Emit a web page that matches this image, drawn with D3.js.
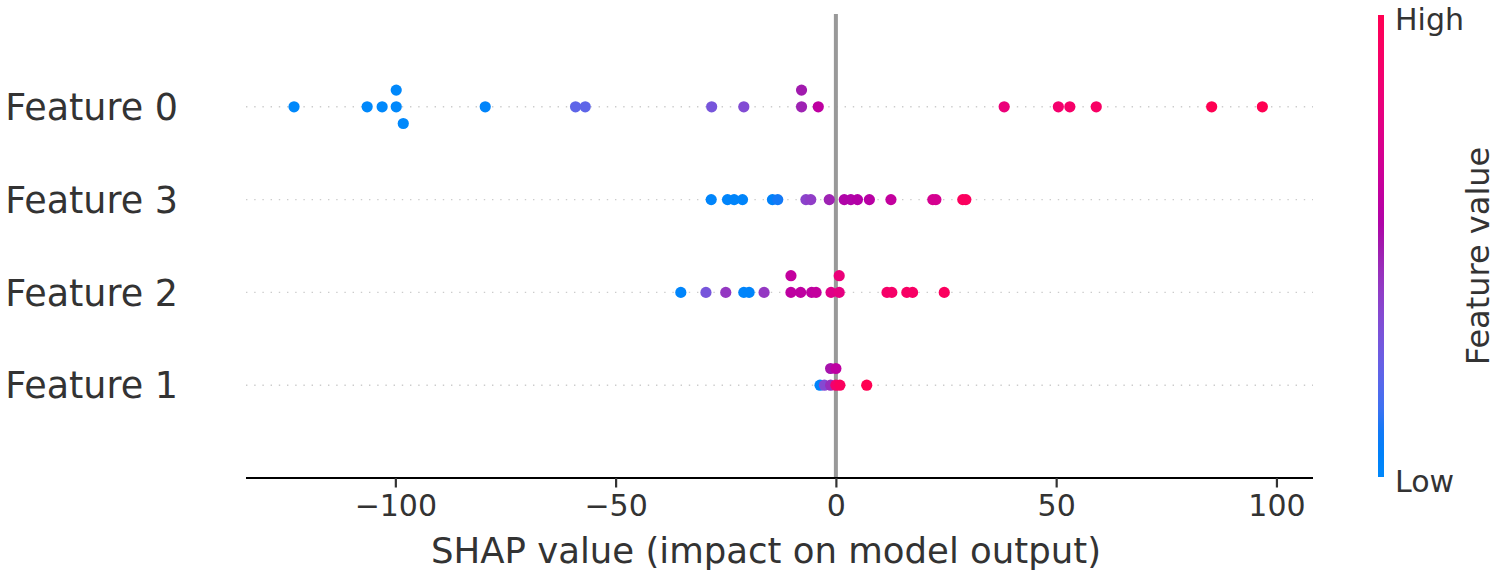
<!DOCTYPE html>
<html>
<head>
<meta charset="utf-8">
<script src="https://cdn.jsdelivr.net/npm/d3@7"></script>
<style>
  html, body { margin: 0; padding: 0; background: #ffffff; }
  svg { display: block; font-family: "DejaVu Sans", sans-serif; }
</style>
</head>
<body>
<svg id="chart" width="1498" height="584"></svg>
<script>
// ---- data ----
const featureNames = ["Feature 0", "Feature 3", "Feature 2", "Feature 1"]; // top to bottom
const xTicks = [-100, -50, 0, 50, 100];

// SHAP values and normalised feature values (0 = low, 1 = high)
const shapF0 = [-123.0, -106.4, -103.0, -99.8, -99.8, -98.2, -79.6, -59.1, -56.9, -28.2, -20.9, -7.8, -7.8, -4.0, 38.2, 50.5, 53.1, 59.1, 85.3, 96.8];
const valF0  = [0.0, 0.0, 0.0, 0.0, 0.0, 0.0, 0.03, 0.22, 0.22, 0.3, 0.34, 0.48, 0.5, 0.6, 0.82, 0.88, 0.9, 0.92, 1.0, 1.0];

const shapF3 = [-28.3, -24.6, -23.1, -21.2, -14.4, -13.2, -6.8, -5.7, -1.5, 1.9, 3.4, 4.9, 7.6, 12.5, 22.0, 22.7, 28.8, 29.5];
const valF3  = [0.02, 0.02, 0.03, 0.03, 0.05, 0.1, 0.38, 0.4, 0.48, 0.55, 0.55, 0.56, 0.58, 0.62, 0.7, 0.7, 0.95, 0.95];

const shapF2 = [-35.2, -29.5, -25.0, -20.9, -19.7, -16.3, -10.2, -10.2, -8.0, -5.5, -4.5, -1.1, 0.75, 0.75, 11.6, 12.7, 16.1, 17.4, 24.6];
const valF2  = [0.02, 0.3, 0.42, 0.02, 0.03, 0.42, 0.6, 0.62, 0.6, 0.6, 0.62, 0.75, 0.78, 0.82, 0.9, 0.9, 0.92, 0.92, 0.95];

const shapF1 = [-3.6, -2.6, -1.2, -1.2, 0.0, 0.0, 0.9, 7.0];
const valF1  = [0.03, 0.35, 0.45, 0.52, 0.88, 0.6, 0.95, 1.0];

const rows = [
  { name: featureNames[0], shap: shapF0, val: valF0 },
  { name: featureNames[1], shap: shapF3, val: valF3 },
  { name: featureNames[2], shap: shapF2, val: valF2 },
  { name: featureNames[3], shap: shapF1, val: valF1 }
];

// ---- layout ----
const svg = d3.select("#chart");
const plotLeft = 246, plotRight = 1313, plotTop = 14, plotBottom = 478;
const axisColor = "#333333";

const x = d3.scaleLinear().domain([-133.9, 108.3]).range([plotLeft, plotRight]);
const y = d3.scaleLinear().domain([-1, rows.length]).range([plotBottom, plotTop]);

// SHAP red_blue colour map: LCh blend from blue to red with a darker middle
const color = t => {
  t = Math.max(0, Math.min(1, t));
  const h = 266.9 + t * (380.3 - 266.9);
  const c = 70 + t * 20;
  const l = t < 0.5 ? 54 - (54 - 40) * (t / 0.5) : 40 + (54 - 40) * ((t - 0.5) / 0.5);
  return d3.hcl(h % 360, c, l).formatHex();
};

// row gridlines (dotted)
rows.forEach((r, i) => {
  const yy = y(rows.length - 1 - i);
  svg.append("line")
    .attr("x1", plotLeft).attr("x2", plotRight)
    .attr("y1", yy).attr("y2", yy)
    .attr("stroke", "#cccccc").attr("stroke-width", 1.4)
    .attr("stroke-dasharray", "1.4,6.8");
});

// zero line
svg.append("line")
  .attr("x1", x(0)).attr("x2", x(0))
  .attr("y1", plotTop).attr("y2", plotBottom)
  .attr("stroke", "#999999").attr("stroke-width", 4);

// beeswarm layout (SHAP algorithm, deterministic tie order)
function swarm(shaps) {
  const n = shaps.length, nbins = 100;
  const mn = d3.min(shaps), mx = d3.max(shaps);
  const quant = shaps.map(v => Math.round(nbins * (v - mn) / (mx - mn + 1e-8)));
  const inds = d3.range(n).sort((a, b) => quant[a] - quant[b] || a - b);
  const ys = new Array(n).fill(0);
  let layer = 0, lastBin = -1;
  inds.forEach(ind => {
    if (quant[ind] !== lastBin) layer = 0;
    ys[ind] = Math.ceil(layer / 2) * ((layer % 2) * 2 - 1);
    layer += 1;
    lastBin = quant[ind];
  });
  const m = d3.max(ys.map(v => v + 1));
  return ys.map(v => v * 0.9 * (0.4 / m));
}

const dots = svg.append("g");
rows.forEach((r, i) => {
  const pos = rows.length - 1 - i;
  const offs = swarm(r.shap);
  const pts = r.shap.map((s, k) => ({ s, v: r.val[k], o: offs[k] }));
  dots.selectAll(null).data(pts).enter().append("circle")
    .attr("cx", d => x(d.s))
    .attr("cy", d => y(pos + d.o))
    .attr("r", 5.6)
    .attr("fill", d => color(d.v));
});

// feature labels
rows.forEach((r, i) => {
  svg.append("text")
    .attr("x", 178).attr("y", y(rows.length - 1 - i) + 13.2)
    .attr("text-anchor", "end")
    .attr("font-size", 36.5).attr("fill", axisColor)
    .text(r.name);
});

// x axis
const xAxis = d3.axisBottom(x).tickValues(xTicks).tickSize(9.5).tickPadding(7);
const gx = svg.append("g").attr("transform", `translate(0,${plotBottom})`).call(xAxis);
gx.select(".domain").attr("stroke", "#000000").attr("stroke-width", 2.2)
  .attr("d", `M${plotLeft},0H${plotRight}`);
gx.selectAll(".tick line").attr("stroke", axisColor).attr("stroke-width", 2.2);
gx.selectAll(".tick text").attr("fill", axisColor).attr("font-size", 30)
  .attr("font-family", "DejaVu Sans, sans-serif");

svg.append("text")
  .attr("x", 766).attr("y", 563)
  .attr("text-anchor", "middle").attr("font-size", 35.5).attr("fill", axisColor)
  .text("SHAP value (impact on model output)");

// colour bar
const cbX = 1378, cbW = 6, cbTop = 15, cbBottom = 477;
const defs = svg.append("defs");
const grad = defs.append("linearGradient").attr("id", "cbgrad")
  .attr("x1", 0).attr("y1", 1).attr("x2", 0).attr("y2", 0);
d3.range(0, 1.0001, 0.05).forEach(t => {
  grad.append("stop").attr("offset", t).attr("stop-color", color(t));
});
svg.append("rect").attr("x", cbX).attr("y", cbTop)
  .attr("width", cbW).attr("height", cbBottom - cbTop)
  .attr("fill", "url(#cbgrad)");

svg.append("text").attr("x", 1395).attr("y", cbTop + 15)
  .attr("font-size", 30).attr("fill", axisColor).text("High");
svg.append("text").attr("x", 1395).attr("y", cbBottom + 15)
  .attr("font-size", 30).attr("fill", axisColor).text("Low");
svg.append("text")
  .attr("transform", "translate(1489,256) rotate(-90)")
  .attr("text-anchor", "middle").attr("font-size", 32).attr("fill", axisColor)
  .text("Feature value");
</script>
</body>
</html>
